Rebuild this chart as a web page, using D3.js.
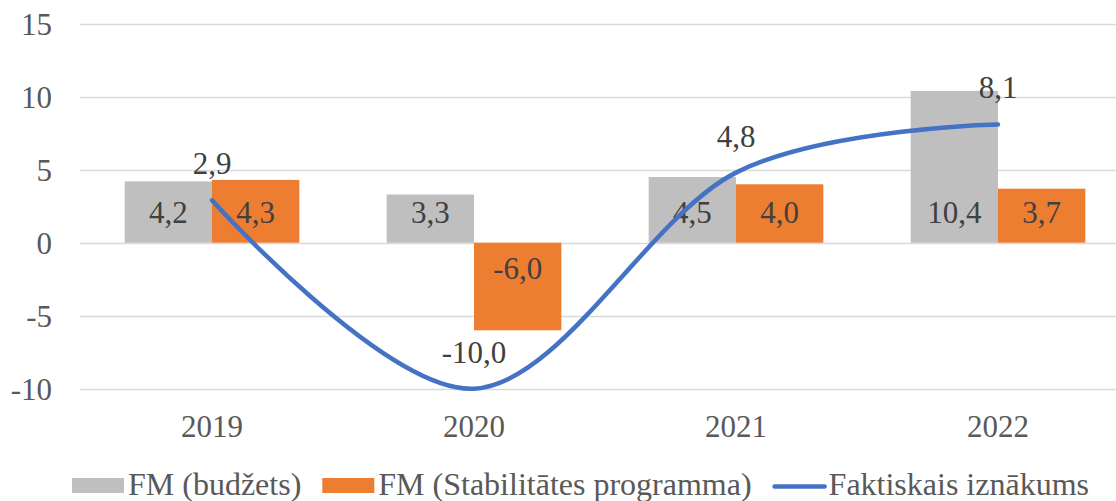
<!DOCTYPE html>
<html>
<head>
<meta charset="utf-8">
<script src="https://cdn.jsdelivr.net/npm/d3@7"></script>
<style>
  html, body { margin: 0; padding: 0; background: #fff; }
  svg text { font-family: "Times New Roman", "Liberation Serif", "DejaVu Serif", serif; }
</style>
</head>
<body>
<svg id="chart" width="1116" height="501"></svg>
<script>
const categories = ["2019", "2020", "2021", "2022"];
const budzets = [4.2, 3.3, 4.5, 10.4];
const stabilitates = [4.3, -6.0, 4.0, 3.7];
const faktiskais = [2.9, -10.0, 4.8, 8.1];
const yTicks = [15, 10, 5, 0, -5, -10];
const seriesNames = ["FM (budžets)", "FM (Stabilitātes programma)", "Faktiskais iznākums"];
const colors = ["#BFBFBF", "#ED7D31", "#4472C4"];

const FONT = "'Times New Roman', 'Liberation Serif', 'DejaVu Serif', serif";
const svg = d3.select("#chart");
const W = 1116, H = 501;

const x = d3.scaleBand().domain(categories).range([81, 1129]).paddingInner(0.333).paddingOuter(0.1665);
const bandStep = x.step();
const groupW = bandStep * 2 / 3;
const xs = d3.scaleBand().domain([0, 1]).range([0, groupW]).padding(0);
const center = c => x(c) + x.bandwidth() / 2;

const y = d3.scaleLinear().domain([-10, 15]).range([388.7, 23.7]);
const fmt = v => d3.format(".1f")(v).replace(".", ",").replace("−", "-");

// gridlines
svg.append("g").selectAll("line").data(yTicks).join("line")
  .attr("x1", 80).attr("x2", W).attr("y1", d => Math.round(y(d)) + 0.5).attr("y2", d => Math.round(y(d)) + 0.5)
  .attr("stroke", "#D9D9D9").attr("stroke-width", 1.5);

// y tick labels
svg.append("g").selectAll("text").data(yTicks).join("text")
  .attr("font-family", FONT)
  .attr("x", 52).attr("y", d => y(d)).attr("dy", "0.35em")
  .attr("text-anchor", "end").attr("font-size", 31).attr("fill", "#595959")
  .text(d => d);

// x labels
svg.append("g").selectAll("text").data(categories).join("text")
  .attr("font-family", FONT)
  .attr("x", d => center(d)).attr("y", 437)
  .attr("text-anchor", "middle").attr("font-size", 31).attr("fill", "#595959")
  .text(d => d);

const barSeries = [budzets, stabilitates];
barSeries.forEach((vals, si) => {
  const g = svg.append("g");
  const data = categories.map((c, i) => ({ c, v: vals[i] }));
  const bx = d => center(d.c) - groupW / 2 + xs(si);
  g.selectAll("rect").data(data).join("rect")
    .attr("x", bx).attr("width", xs.bandwidth())
    .attr("y", d => Math.min(y(d.v), y(0))).attr("height", d => Math.abs(y(d.v) - y(0)))
    .attr("fill", colors[si]);
  g.selectAll("text").data(data).join("text")
    .attr("font-family", FONT)
    .attr("x", d => bx(d) + xs.bandwidth() / 2)
    .attr("y", d => d.v >= 0 ? y(0) - 20 : y(0) + 36)
    .attr("text-anchor", "middle").attr("font-size", 31).attr("fill", "#404040")
    .text(d => fmt(d.v));
});

// line
const lineData = categories.map((c, i) => ({ c, v: faktiskais[i] }));
const line = d3.line().x(d => center(d.c)).y(d => y(d.v)).curve(d3.curveCardinal.tension(0));
svg.append("path").datum(lineData).attr("d", line)
  .attr("fill", "none").attr("stroke", colors[2]).attr("stroke-width", 4.5).attr("stroke-linecap", "round");
svg.append("g").selectAll("text").data(lineData).join("text")
  .attr("font-family", FONT)
  .attr("x", d => center(d.c)).attr("y", d => y(d.v) - 26)
  .attr("text-anchor", "middle").attr("font-size", 31).attr("fill", "#404040")
  .text(d => fmt(d.v));

// legend
const lg = svg.append("g");
let lx = 72;
seriesNames.forEach((name, i) => {
  if (i < 2) {
    lg.append("rect").attr("x", lx).attr("y", 478).attr("width", 52).attr("height", 15).attr("fill", colors[i]);
  } else {
    lg.append("line").attr("x1", lx + 2).attr("x2", lx + 52).attr("y1", 486.5).attr("y2", 486.5)
      .attr("stroke", colors[i]).attr("stroke-width", 4.5).attr("stroke-linecap", "round");
  }
  const t = lg.append("text").attr("font-family", FONT)
    .attr("x", lx + 56).attr("y", 495).attr("font-size", 32).attr("fill", "#595959").text(name);
  lx = lx + 56 + t.node().getComputedTextLength() + 21;
});
</script>
</body>
</html>
